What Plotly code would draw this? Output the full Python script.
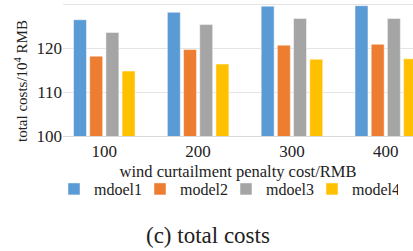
import plotly.graph_objects as go

categories = ["100", "200", "300", "400"]
series_names = ["mdoel1", "model2", "mdoel3", "model4"]
mdoel1 = [126.5, 128.2, 129.6, 129.7]
model2 = [118.2, 119.7, 120.7, 120.9]
mdoel3 = [123.6, 125.4, 126.8, 126.8]
model4 = [114.8, 116.4, 117.5, 117.6]
colors = ["#5b9bd5", "#ed7d31", "#a5a5a5", "#ffc000"]
y_tickvals = [100, 110, 120, 130]
y_ticktext = ["100", "110", "120", ""]

FONT = "Liberation Serif"
fig = go.Figure()
for name, vals, col in zip(series_names, [mdoel1, model2, mdoel3, model4], colors):
    fig.add_trace(go.Bar(x=categories, y=vals, name=name, marker_color=col,
                         marker_line=dict(color="rgba(255,255,255,0.6)", width=0.8)))

fig.update_layout(
    width=413, height=251,
    margin=dict(l=63, r=0, t=0, b=115, autoexpand=False),
    paper_bgcolor="white", plot_bgcolor="white",
    barmode="group", bargap=0.31, bargroupgap=0.2,
    font=dict(family=FONT, color="#222222"),
    showlegend=True,
    legend=dict(orientation="h", xref="container", x=54/413, xanchor="left",
                y=-0.39, yanchor="middle", font=dict(family=FONT, size=16, color="#222"),
                entrywidth=41, entrywidthmode="pixels", itemclick=False, tracegroupgap=0),
    xaxis=dict(type="category", range=[-0.44, 3.29], showgrid=False,
               showline=True, linecolor="#d9d9d9", linewidth=1, ticks="",
               tickfont=dict(family=FONT, size=17, color="#222"),
               title=dict(text="wind curtailment penalty cost/RMB", standoff=5,
                          font=dict(family=FONT, size=16.5, color="#222"))),
    yaxis=dict(range=[100, 131], tickvals=y_tickvals, ticktext=y_ticktext,
               showgrid=True, gridcolor="#e4e4e4", gridwidth=1, zeroline=False,
               showline=False, ticks="",
               tickfont=dict(family=FONT, size=17, color="#222")),
    annotations=[
        dict(text="(c) total costs", xref="paper", yref="paper",
             x=(208-63)/350, y=-0.735, xanchor="center", yanchor="middle",
             showarrow=False, font=dict(family=FONT, size=23, color="#222")),
        dict(text="total costs/10<sup>4</sup> RMB", xref="paper", yref="paper",
             x=(21-63)/350, y=(136-81)/136, xanchor="center", yanchor="middle",
             textangle=-90, showarrow=False, font=dict(family=FONT, size=15, color="#222")),
    ],
)

fig.write_html("out.html", config={"displayModeBar": False},
               post_script="document.body.style.margin='0';")
